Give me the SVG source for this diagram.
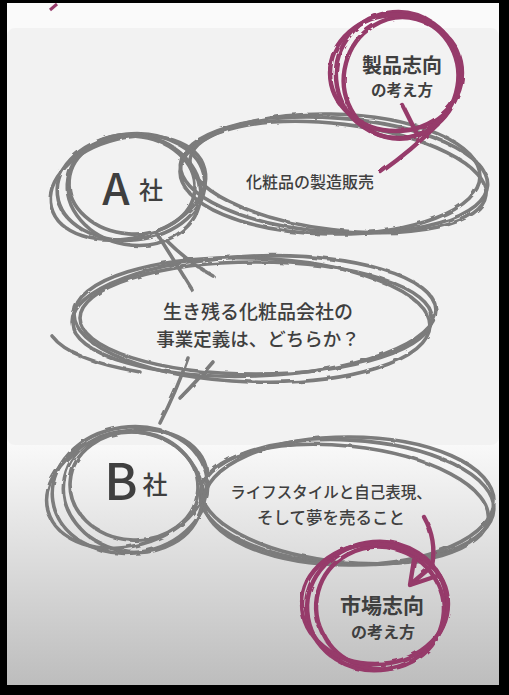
<svg xmlns="http://www.w3.org/2000/svg" width="509" height="695" viewBox="0 0 509 695">
<defs>
<linearGradient id="bg" x1="0" y1="440" x2="0" y2="685" gradientUnits="userSpaceOnUse">
<stop offset="0" stop-color="#fafafa"/><stop offset="1" stop-color="#bdbdbd"/>
</linearGradient>
<filter id="rough" x="-10%" y="-10%" width="120%" height="120%">
<feTurbulence type="fractalNoise" baseFrequency="0.09" numOctaves="2" seed="4"/>
<feDisplacementMap in="SourceGraphic" scale="3"/>
</filter>
<style>
.g{fill:none;stroke:#7b7b7b;stroke-width:3.6;stroke-linecap:round}
.p{fill:none;stroke:#963a6a;stroke-width:4.4;stroke-linecap:round;stroke-linejoin:round}
.t{font-family:"Noto Sans CJK JP","Noto Sans",sans-serif;fill:#3f3f3f;text-anchor:middle;font-weight:500}
.b{font-weight:700}
</style>
</defs>
<rect width="509" height="695" fill="#000"/>
<rect x="7" y="3" width="492" height="682" fill="url(#bg)"/>
<rect x="7" y="28" width="492" height="417" rx="8" fill="#f2f2f2"/>
<path d="M50 10 L57 4" stroke="#963a6a" stroke-width="3" fill="none"/>

<g id="connectors" class="g" filter="url(#rough)">
<path d="M156 232 Q175 262 193 291"/>
<path d="M166 240 Q188 262 213 276"/>
<path d="M188 358 Q176 392 160 423"/>
<path d="M213 362 Q196 382 180 398"/>
</g>

<g id="node-a-def">
<g class="g" filter="url(#rough)">
<ellipse cx="334" cy="175" rx="154" ry="57" transform="rotate(4 334 175)"/>
<ellipse cx="338" cy="177" rx="149" ry="53" transform="rotate(7 338 177)"/>
<ellipse cx="330" cy="174" rx="150" ry="60" transform="rotate(1 330 174)"/>
</g>
<text class="t" x="310" y="188" font-size="16">化粧品の製造販売</text>
</g>

<g id="node-a">
<g class="g" filter="url(#rough)">
<ellipse cx="131" cy="187" rx="74" ry="53" transform="rotate(-6 131 187)"/>
<ellipse cx="134" cy="190" rx="67" ry="55" transform="rotate(10 134 190)"/>
<ellipse cx="128" cy="188" rx="79" ry="50" transform="rotate(-14 128 188)"/>
<ellipse cx="132" cy="185" rx="63" ry="49" transform="rotate(4 132 185)"/>
</g>
<text class="t" x="116" y="205" font-size="44">A</text>
<text class="t" x="151" y="199" font-size="24">社</text>
</g>

<g id="node-a-view">
<g class="p" filter="url(#rough)">
<ellipse cx="398" cy="75" rx="62" ry="63" transform="rotate(-10 398 75)"/>
<ellipse cx="401" cy="78" rx="57" ry="61" transform="rotate(15 401 78)"/>
<ellipse cx="396" cy="73" rx="66" ry="58"/>
<path d="M438 124 Q412 150 381 172"/>
<path d="M403 106 L418 136 L440 120"/>
</g>
<text class="t b" x="402" y="73" font-size="20">製品志向</text>
<text class="t b" x="402" y="96" font-size="15.5">の考え方</text>
</g>

<g id="node-q">
<g class="g" filter="url(#rough)">
<ellipse cx="254" cy="316" rx="182" ry="60" transform="rotate(-2 254 316)"/>
<ellipse cx="252" cy="320" rx="178" ry="62" transform="rotate(2 252 320)"/>
<ellipse cx="256" cy="318" rx="176" ry="56"/>
<path d="M52 336 Q70 360 140 372"/>
</g>
<text class="t" x="258" y="319" font-size="19">生き残る化粧品会社の</text>
<text class="t" x="258" y="346" font-size="18.5">事業定義は、どちらか？</text>
</g>

<g id="node-b-def">
<g class="g" filter="url(#rough)">
<ellipse cx="347" cy="502" rx="147" ry="62" transform="rotate(3 347 502)"/>
<ellipse cx="345" cy="504" rx="144" ry="58" transform="rotate(6 345 504)"/>
<ellipse cx="349" cy="501" rx="145" ry="64"/>
</g>
<text class="t" x="331" y="498" font-size="15.5">ライフスタイルと自己表現、</text>
<text class="t" x="331" y="524" font-size="16.5">そして夢を売ること</text>
</g>

<g id="node-b">
<g class="g" filter="url(#rough)">
<ellipse cx="130" cy="490" rx="78" ry="63" transform="rotate(-8 130 490)"/>
<ellipse cx="133" cy="492" rx="70" ry="60" transform="rotate(12 133 492)"/>
<ellipse cx="127" cy="489" rx="82" ry="57" transform="rotate(-16 127 489)"/>
<ellipse cx="134" cy="486" rx="64" ry="54" transform="rotate(4 134 486)"/>
</g>
<text class="t" x="121" y="500" font-size="50">B</text>
<text class="t" x="155" y="494" font-size="25">社</text>
</g>

<g id="node-b-view">
<g class="p" filter="url(#rough)">
<ellipse cx="377" cy="606" rx="70" ry="64" transform="rotate(-10 377 606)"/>
<ellipse cx="380" cy="608" rx="64" ry="61" transform="rotate(15 380 608)"/>
<ellipse cx="375" cy="604" rx="73" ry="60"/>
<path d="M424 517 Q437 540 432 566 L411 584"/>
<path d="M414 560 L410 585 L437 576"/>
</g>
<text class="t b" x="382" y="613" font-size="21">市場志向</text>
<text class="t b" x="383" y="638" font-size="16">の考え方</text>
</g>
</svg>
